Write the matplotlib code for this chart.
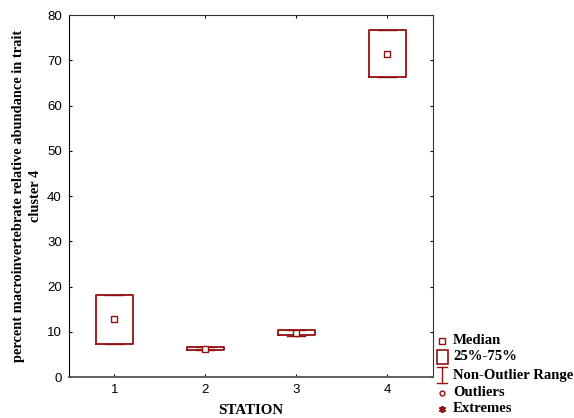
import matplotlib.pyplot as plt
from matplotlib.lines import Line2D
from matplotlib.patches import Rectangle

# values
stations = [1, 2, 3, 4]
medians = [12.8, 6.2, 9.8, 71.5]
q1 = [7.3, 5.9, 9.2, 66.2]
q3 = [18.2, 6.7, 10.4, 76.6]
whislo = [7.3, 5.9, 9.1, 66.2]
whishi = [18.2, 6.7, 10.5, 76.6]
legend_labels = ['Median', '25%-75%', 'Non-Outlier Range', 'Outliers', 'Extremes']

red = '#950f0f'

fig = plt.figure(figsize=(5.74, 4.18), dpi=100)
ax = fig.add_axes([0.120, 0.098, 0.634, 0.866])

stats = []
for i in range(len(stations)):
    stats.append(dict(med=medians[i], q1=q1[i], q3=q3[i],
                      whislo=whislo[i], whishi=whishi[i], fliers=[]))

ax.bxp(stats, positions=stations, widths=0.4, showfliers=False,
       boxprops=dict(color=red, linewidth=1.3),
       whiskerprops=dict(color=red, linewidth=1.0),
       capprops=dict(color=red, linewidth=1.0),
       medianprops=dict(linewidth=0), manage_ticks=False)
ax.plot(stations, medians, linestyle='none', marker='s', markersize=4.5,
        markerfacecolor='white', markeredgecolor=red, markeredgewidth=1.0)

ax.set_xlim(0.5, 4.5)
ax.set_ylim(0, 80)
ax.set_xticks(stations)
ax.set_yticks(range(0, 81, 10))
ax.tick_params(direction='in', length=2, top=True, right=True, labelsize=9.5, pad=5)
for lab in ax.get_xticklabels() + ax.get_yticklabels():
    lab.set_fontfamily('Liberation Sans')
ax.spines['left'].set_color('black')
ax.spines['bottom'].set_color('#555555')
ax.spines['bottom'].set_linewidth(1.3)
ax.spines['top'].set_color('#333333')
ax.spines['right'].set_color('#333333')

ax.set_xlabel('STATION', fontfamily='Liberation Serif', fontweight='bold',
              fontsize=10.8, labelpad=6)
ax.set_ylabel('percent macroinvertebrate relative abundance in trait\ncluster 4',
              fontfamily='Liberation Serif', fontweight='bold', fontsize=10.4,
              labelpad=4, linespacing=1.4)

# legend drawn in figure coordinates
W, H = 574, 418
ys = [341, 357, 375, 393, 409]
mx = 442
tx = 453
for y, lab in zip(ys, legend_labels):
    fig.text(tx / W, 1 - y / H, lab, fontfamily='Liberation Serif',
             fontweight='bold', fontsize=10.6, va='center', ha='left')

# Median
fig.add_artist(Line2D([mx / W], [1 - ys[0] / H], marker='s', markersize=4,
                      markerfacecolor='white', markeredgecolor=red, markeredgewidth=1.0))
# 25%-75%
fig.add_artist(Rectangle(((mx - 5) / W, 1 - (ys[1] + 7) / H), 11 / W, 14 / H,
                         fill=False, edgecolor=red, linewidth=1.2))
# Non-Outlier Range
yt, yb = ys[2] - 8, ys[2] + 8
fig.add_artist(Line2D([mx / W, mx / W], [1 - yt / H, 1 - yb / H], color=red, linewidth=1))
fig.add_artist(Line2D([(mx - 5) / W, (mx + 5) / W], [1 - yt / H, 1 - yt / H], color=red, linewidth=1))
fig.add_artist(Line2D([(mx - 5) / W, (mx + 5) / W], [1 - yb / H, 1 - yb / H], color=red, linewidth=1))
# Outliers
fig.add_artist(Line2D([mx / W], [1 - ys[3] / H], marker='o', markersize=3.5,
                      markerfacecolor='white', markeredgecolor=red, markeredgewidth=1.0))
# Extremes
fig.add_artist(Line2D([mx / W], [1 - ys[4] / H], marker=(6, 2, 0), markersize=5,
                      color=red, markeredgewidth=1.3))

plt.savefig('out.png', dpi=100)
